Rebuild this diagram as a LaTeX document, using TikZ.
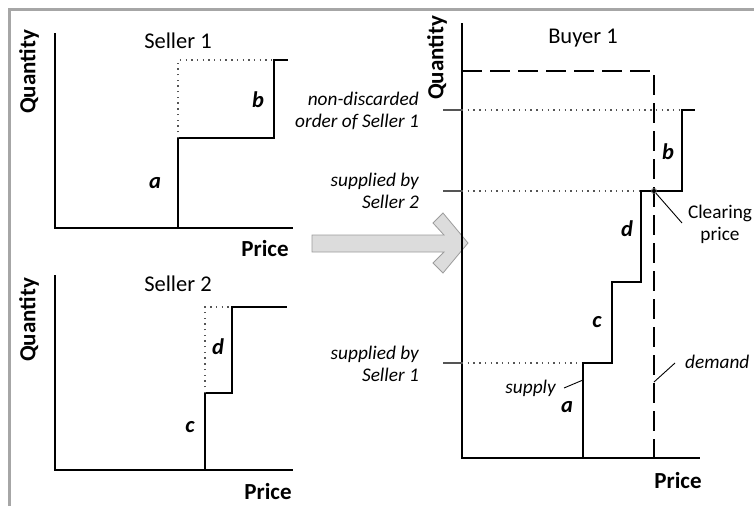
\documentclass[tikz,border=0pt]{standalone}
\usepackage{fontspec}
\setmainfont{Carlito}
\usepackage{xcolor}
\usepackage{tikz}
\usetikzlibrary{
  arrows.meta,
  positioning,
  calc
}
\definecolor{framecolor}{HTML}{A6A6A6}
\definecolor{bigarrowfill}{HTML}{DCDCDC}
\definecolor{bigarrowedge}{HTML}{9C9C9C}
\definecolor{dotcolor}{HTML}{555555}

\begin{document}
\begin{tikzpicture}[
  x=1pt, y=-1pt,
  axis/.style={line width=1.3pt},
  curve/.style={line width=1.8pt, line join=miter},
  guide/.style={line width=1.4pt, dash pattern=on 1.4pt off 4.3pt, dotcolor},
  demandline/.style={line width=1.5pt, dash pattern=on 20pt off 8pt},
  tick/.style={line width=1.3pt, dotcolor},
  leader/.style={line width=0.9pt},
  title/.style={font=\fontsize{22.5}{26}\selectfont, inner sep=0pt},
  axlbl/.style={font=\fontsize{23}{27}\selectfont\bfseries, inner sep=0pt},
  seg/.style={font=\fontsize{22.5}{26}\selectfont\bfseries\itshape, inner sep=0pt},
  note/.style={font=\fontsize{19.3}{22}\selectfont\itshape, align=right, inner sep=0pt},
  callout/.style={font=\fontsize{19.3}{22}\selectfont, align=center, inner sep=0pt}
]
  \useasboundingbox (0,0) rectangle (754,506);

  % ── Frame ──
  \draw[line width=3pt, framecolor] (9,506) -- (9,9) -- (754,9);

  % ── Seller 1 ──
  \draw[axis] (55,33) -- (55,228) -- (293,228);
  \draw[curve] (55,228) -- (178,228) -- (178,138) -- (274,138) -- (274,60) -- (288,60);
  \draw[guide] (178,138) -- (178,60) -- (274,60);
  \node[title] (s1title) at (178,41) {Seller 1};
  \node[axlbl, rotate=90] (s1q) at (29,72) {Quantity};
  \node[axlbl] (s1p) at (265,249) {Price};
  \node[seg] (s1a) at (155,183) {a};
  \node[seg] (s1b) at (258,100) {b};

  % ── Seller 2 ──
  \draw[axis] (55,275) -- (55,470) -- (293,470);
  \draw[curve] (205,470) -- (205,393) -- (232,393) -- (232,307) -- (287,307);
  \draw[guide] (205,393) -- (205,307) -- (232,307);
  \node[title] (s2title) at (178,284) {Seller 2};
  \node[axlbl, rotate=90] (s2q) at (29,320) {Quantity};
  \node[axlbl] (s2p) at (268,492) {Price};
  \node[seg] (s2c) at (190,427) {c};
  \node[seg] (s2d) at (218,347) {d};

  % ── Big arrow ──
  \draw[bigarrowedge, fill=bigarrowfill, line width=0.8pt]
    (312,235) -- (444,235) -- (433,223) -- (443,213) -- (468,243)
    -- (443,273) -- (433,263) -- (444,252) -- (312,252) -- cycle;

  % ── Buyer 1: axes and ticks ──
  \draw[axis] (462,23) -- (462,458) -- (700,458);
  \foreach \yy in {110,191,363}
    \draw[tick] (443,\yy) -- (462,\yy);
  \draw[guide] (462,110) -- (682,110);
  \draw[guide] (462,191) -- (641,191);
  \draw[guide] (462,363) -- (583,363);

  % ── Buyer 1: demand and supply ──
  \draw[demandline] (462,71) -- (654,71) -- (654,458);
  \draw[curve] (583,458) -- (583,363) -- (612,363) -- (612,282) -- (641,282)
    -- (641,191) -- (682,191) -- (682,110) -- (695,110);

  \node[title] (btitle) at (583,38) {Buyer 1};
  \node[axlbl, rotate=90] (bq) at (437,58) {Quantity};
  \node[axlbl] (bp) at (678,481) {Price};
  \node[seg] (ba) at (567,407) {a};
  \node[seg] (bb) at (668,152) {b};
  \node[seg] (bc) at (597,322) {c};
  \node[seg] (bd) at (627,229) {d};

  % ── Notes on the quantity axis ──
  \node[note, anchor=east] (nondisc) at (419,111) {non-discarded\\order of Seller 1};
  \node[note, anchor=east] (bys2) at (419,191) {supplied by\\Seller 2};
  \node[note, anchor=east] (bys1) at (419,364) {supplied by\\Seller 1};

  % ── Clearing price ──
  \node[draw=dotcolor, circle, line width=0.8pt, minimum size=5pt, inner sep=0pt] (clear) at (654,191) {};
  \node[callout] (cleartxt) at (720,224) {Clearing\\price};
  \coordinate (clearend) at (682,223);
  \draw[leader] (clear) -- (clearend);

  % ── Curve labels ──
  \node[note, anchor=west] (demandtxt) at (685,362) {demand};
  \coordinate (demandpt) at (654,382);
  \coordinate (demandend) at (675,363);
  \draw[leader] (demandpt) -- (demandend);

  \node[note, anchor=east] (supplytxt) at (556,388) {supply};
  \coordinate (supplypt) at (583,380);
  \coordinate (supplyend) at (564,388);
  \draw[leader] (supplyend) -- (supplypt);

\end{tikzpicture}
\end{document}
